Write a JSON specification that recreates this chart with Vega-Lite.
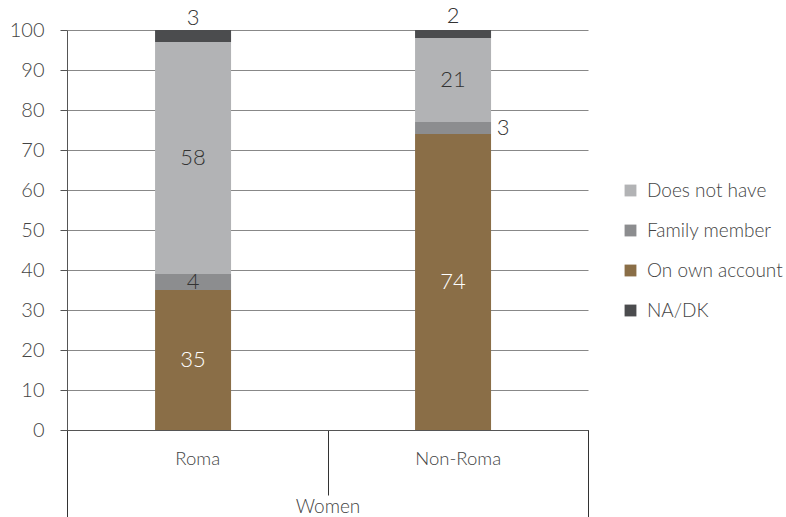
{
  "$schema": "https://vega.github.io/schema/vega-lite/v6.json",
  "autosize": {"type": "none"},
  "padding": {"left": 67, "top": 30, "right": 198, "bottom": 87},
  "width": 521,
  "height": 400,
  "background": "white",
  "config": {
    "font": "Lato",
    "view": {"stroke": null},
    "axis": {"labelFont": "Lato", "titleFont": "Lato", "labelFontWeight": 300},
    "axisY": {
      "title": null, "values": [0,10,20,30,40,50,60,70,80,90,100],
      "tickSize": 7, "tickColor": "#555", "labelPadding": 16, "labelFontSize": 20,
      "labelColor": "#444", "domainColor": "#555", "gridColor": "#888", "gridWidth": 1,
      "labelOverlap": false
    },
    "legend": {"labelFont": "Lato", "labelFontWeight": 300}
  },
  "data": {
    "values": [
      {"sex": "Women", "group": "Roma", "cat": "On own account", "value": 35, "ord": 1},
      {"sex": "Women", "group": "Roma", "cat": "Family member", "value": 4, "ord": 2},
      {"sex": "Women", "group": "Roma", "cat": "Does not have", "value": 58, "ord": 3},
      {"sex": "Women", "group": "Roma", "cat": "NA/DK", "value": 3, "ord": 4},
      {"sex": "Women", "group": "Non-Roma", "cat": "On own account", "value": 74, "ord": 1},
      {"sex": "Women", "group": "Non-Roma", "cat": "Family member", "value": 3, "ord": 2},
      {"sex": "Women", "group": "Non-Roma", "cat": "Does not have", "value": 21, "ord": 3},
      {"sex": "Women", "group": "Non-Roma", "cat": "NA/DK", "value": 2, "ord": 4}
    ]
  },
  "resolve": {"scale": {"x": "independent"}, "axis": {"x": "independent"}},
  "layer": [
    {
      "layer": [
        {
          "mark": {"type": "bar"},
          "encoding": {
            "y": {
              "field": "value", "type": "quantitative", "stack": "zero",
              "scale": {"domain": [0, 100], "nice": false},
              "axis": {"values": [0,10,20,30,40,50,60,70,80,90,100], "labelOverlap": false}
            },
            "order": {"field": "ord", "type": "quantitative"},
            "color": {
              "field": "cat", "type": "nominal",
              "scale": {
                "domain": ["Does not have", "Family member", "On own account", "NA/DK"],
                "range": ["#b2b3b5", "#8c8d8f", "#8a6e47", "#4b4c4e"]
              },
              "legend": {
                "title": null, "orient": "none", "legendX": 554, "legendY": 151,
                "symbolType": "square", "symbolSize": 140, "symbolStrokeWidth": 0,
                "labelFontSize": 19, "labelColor": "#444", "rowPadding": 20, "labelOffset": 7
              }
            }
          }
        },
        {
          "mark": {"type": "text", "fontSize": 22, "fontWeight": 300, "baseline": "middle"},
          "encoding": {
            "y": {"field": "value", "type": "quantitative", "stack": "zero", "bandPosition": 0.5, "axis": {"values": [0,10,20,30,40,50,60,70,80,90,100], "labelOverlap": false}},
            "order": {"field": "ord", "type": "quantitative"},
            "detail": {"field": "cat"},
            "text": {"condition": {"test": "datum.cat !== 'NA/DK' && !(datum.group === 'Non-Roma' && datum.cat === 'Family member')", "field": "value", "type": "quantitative"}, "value": ""},
            "color": {"condition": {"test": "datum.cat === 'On own account'", "value": "white"}, "value": "#333"}
          }
        },
        {
          "mark": {"type": "text", "fontSize": 22, "fontWeight": 300, "baseline": "middle", "dy": -18, "color": "#333"},
          "encoding": {
            "y": {"field": "value", "type": "quantitative", "stack": "zero", "bandPosition": 0.5, "axis": {"values": [0,10,20,30,40,50,60,70,80,90,100], "labelOverlap": false}},
            "order": {"field": "ord", "type": "quantitative"},
            "detail": {"field": "cat"},
            "text": {"condition": {"test": "datum.cat === 'NA/DK'", "field": "value", "type": "quantitative"}, "value": ""}
          }
        },
        {
          "mark": {"type": "text", "fontSize": 22, "fontWeight": 300, "baseline": "middle", "dx": 50, "color": "#333"},
          "encoding": {
            "y": {"field": "value", "type": "quantitative", "stack": "zero", "bandPosition": 0.5, "axis": {"values": [0,10,20,30,40,50,60,70,80,90,100], "labelOverlap": false}},
            "order": {"field": "ord", "type": "quantitative"},
            "detail": {"field": "cat"},
            "text": {"condition": {"test": "datum.group === 'Non-Roma' && datum.cat === 'Family member'", "field": "value", "type": "quantitative"}, "value": ""}
          }
        }
      ],
      "encoding": {
        "x": {
          "field": "group", "type": "nominal", "sort": ["Roma", "Non-Roma"],
          "scale": {"paddingInner": 0.7077, "paddingOuter": 0.3558, "align": 0.476},
          "axis": null
        }
      }
    },
    {
      "mark": {"type": "point", "opacity": 0},
      "encoding": {
        "x": {
          "field": "group", "type": "nominal", "sort": ["Roma", "Non-Roma"],
          "scale": {"paddingInner": 0, "paddingOuter": 0},
          "axis": {
            "orient": "bottom", "title": null, "labelAngle": 0, "tickBand": "extent",
            "tickSize": 65, "tickColor": "#333", "tickWidth": 1, "domainColor": "#555",
            "labelPadding": -46, "labelFontSize": 18.5, "labelColor": "#444"
          }
        }
      }
    },
    {
      "mark": {"type": "point", "opacity": 0},
      "encoding": {
        "x": {
          "field": "sex", "type": "nominal",
          "scale": {"paddingInner": 0, "paddingOuter": 0},
          "axis": {
            "orient": "bottom", "title": null, "labelAngle": 0, "tickBand": "extent",
            "tickSize": 95, "tickColor": "#333", "tickWidth": 1, "domain": false,
            "labelPadding": -28, "labelFontSize": 19, "labelColor": "#444"
          }
        }
      }
    }
  ]
}
